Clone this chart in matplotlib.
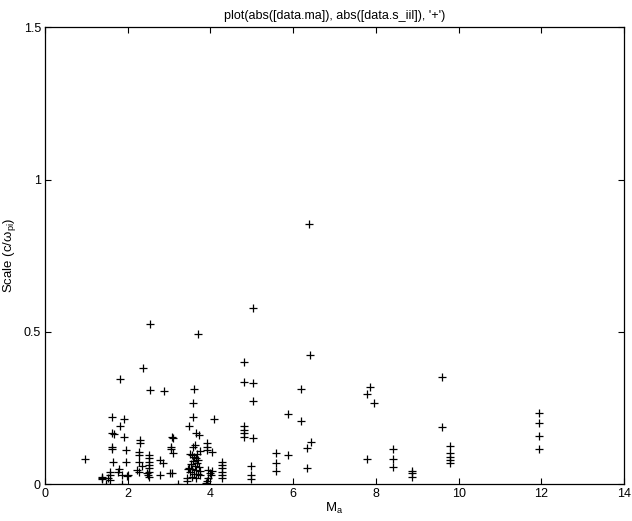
import matplotlib
matplotlib.use("Agg")
import matplotlib.pyplot as plt

plt.rcParams['font.family'] = ['Liberation Sans', 'DejaVu Sans']
plt.rcParams['mathtext.fontset'] = 'custom'
plt.rcParams['mathtext.rm'] = 'Liberation Sans'
plt.rcParams['mathtext.it'] = 'Liberation Sans'

title = "plot(abs([data.ma]), abs([data.s_iil]), '+')"
xlabel = "M$_\\mathrm{a}$"
ylabel = "Scale (c/ω$_\\mathrm{pi}$)"
xticks = [0, 2, 4, 6, 8, 10, 12, 14]
yticks = [0, 0.5, 1, 1.5]
yticklabels = ["0", "0.5", "1", "1.5"]

ma = [
    0.97,
    1.37, 1.39, 1.39, 1.47, 1.53, 1.57, 1.57, 1.57, 1.61, 1.67, 1.61, 1.61, 1.61, 1.64,
    1.81, 1.91, 1.81, 1.90, 1.97, 1.97, 1.77, 1.79, 1.85, 1.85, 1.98, 2.01,
    2.36, 2.54, 2.54, 2.30, 2.30, 2.28, 2.28, 2.28, 2.28, 2.22, 2.35,
    2.52, 2.52, 2.52, 2.52, 2.52, 2.52, 2.52, 2.46, 2.50,
    2.88, 2.78, 2.85, 2.78, 3.02, 3.06, 3.10, 3.05, 3.05, 3.09, 3.06,
    3.21,
    3.71, 3.60, 3.59, 3.59, 3.49, 3.65, 3.73, 3.63, 3.59, 3.43, 3.43, 3.45,
    3.50, 3.55, 3.60, 3.65, 3.70, 3.58, 3.68, 3.52, 3.62, 3.72, 3.48, 3.55,
    3.65, 3.75, 3.50, 3.60, 3.70, 3.55, 3.65, 3.75, 3.68, 3.74,
    4.09, 3.92, 3.92, 3.92, 4.05, 3.95, 4.00, 4.02, 3.95, 3.92, 3.90, 4.05,
    4.27, 4.27, 4.27, 4.27, 4.27, 4.27,
    4.81, 4.81, 5.04, 5.04, 5.04, 4.81, 4.81, 4.81, 4.81, 5.04, 4.97, 4.97, 4.97,
    5.58, 5.58, 5.58, 5.87, 5.87,
    6.39, 6.41, 6.18, 6.18, 6.42, 6.34, 6.33,
    7.86, 7.79, 7.95, 7.78,
    8.41, 8.41, 8.41,
    8.87, 8.87, 8.87,
    9.59, 9.59, 9.79, 9.79, 9.79, 9.79, 9.79,
    11.95, 11.95, 11.95, 11.95,
]

scale = [
    0.083,
    0.020, 0.016, 0.025, 0.000, 0.020, 0.041, 0.031, 0.014, 0.167, 0.165, 0.222, 0.123, 0.115, 0.074,
    0.345, 0.213, 0.192, 0.154, 0.113, 0.074, 0.041, 0.050, 0.031, 0.000, 0.027, 0.031,
    0.381, 0.525, 0.309, 0.145, 0.135, 0.107, 0.096, 0.074, 0.041, 0.047, 0.060,
    0.096, 0.085, 0.074, 0.063, 0.053, 0.041, 0.025, 0.036, 0.031,
    0.307, 0.080, 0.069, 0.031, 0.036, 0.156, 0.151, 0.123, 0.116, 0.104, 0.036,
    0.000,
    0.492, 0.314, 0.266, 0.222, 0.192, 0.167, 0.162, 0.129, 0.123, 0.020, 0.012, 0.050,
    0.100, 0.095, 0.090, 0.085, 0.080, 0.075, 0.070, 0.065, 0.060, 0.058, 0.055, 0.050,
    0.048, 0.045, 0.040, 0.035, 0.035, 0.025, 0.020, 0.030, 0.100, 0.110,
    0.213, 0.135, 0.123, 0.113, 0.107, 0.047, 0.038, 0.030, 0.020, 0.012, 0.005, 0.045,
    0.074, 0.063, 0.052, 0.041, 0.030, 0.020,
    0.402, 0.337, 0.578, 0.333, 0.273, 0.191, 0.178, 0.167, 0.156, 0.151, 0.060, 0.031, 0.017,
    0.102, 0.069, 0.044, 0.230, 0.096,
    0.853, 0.424, 0.312, 0.207, 0.140, 0.120, 0.054,
    0.318, 0.295, 0.268, 0.083,
    0.115, 0.082, 0.056,
    0.044, 0.036, 0.025,
    0.351, 0.189, 0.127, 0.102, 0.091, 0.080, 0.071,
    0.233, 0.202, 0.160, 0.115,
]

fig = plt.figure(figsize=(6.32, 5.21), dpi=100)
ax = fig.add_axes([45/632, 1 - 484.3/521, (624 - 45)/632, (484.3 - 27.3)/521])
ax.plot(ma, scale, '+', color='black', markersize=6, markeredgewidth=0.9, clip_on=True)

ax.set_xlim(0, 14)
ax.set_ylim(0, 1.5)
ax.set_xticks(xticks)
ax.set_xticklabels([str(t) for t in xticks])
ax.set_yticks(yticks)
ax.set_yticklabels(yticklabels)
ax.tick_params(direction='in', top=True, right=True, length=4.5, width=0.8,
               labelsize=9, pad=3)
for s in ax.spines.values():
    s.set_linewidth(0.9)

ax.set_title(title, fontsize=9, pad=6)
ax.set_xlabel(xlabel, fontsize=9.5, labelpad=0)
ax.set_ylabel(ylabel, fontsize=9.5, labelpad=4)

fig.savefig("out.png", dpi=100)
